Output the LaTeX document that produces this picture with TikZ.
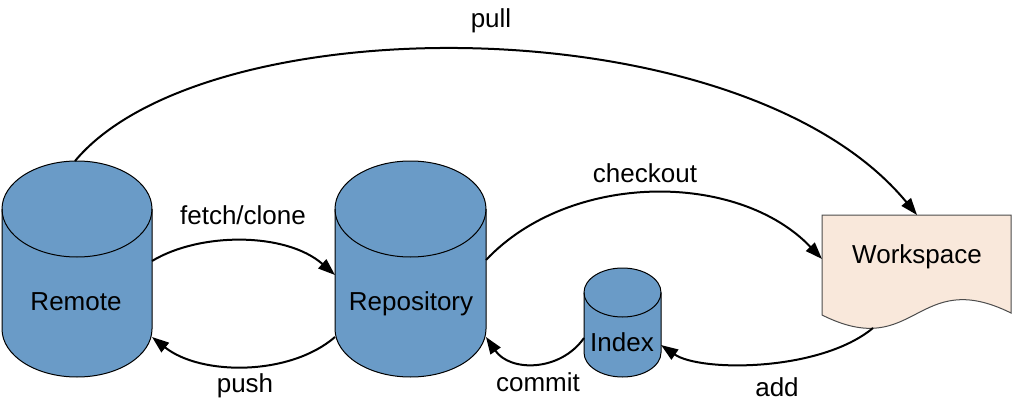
\documentclass[tikz,border=0pt]{standalone}
\usepackage{fontspec}
\setmainfont{Liberation Sans}
\usetikzlibrary{arrows.meta}
\definecolor{cylblue}{RGB}{106,155,199}
\definecolor{wsfill}{RGB}{249,232,219}
\newcommand\cylshape[5]{%
  \pgfmathsetmacro\cylrx{(#2-#1)/2}%
  \filldraw[cylstyle] (#1,-#3-#5) -- (#1,-#4+#5)
    arc[start angle=180,end angle=360,x radius=\cylrx pt,y radius=#5 pt]
    -- (#2,-#3-#5)
    arc[start angle=0,end angle=180,x radius=\cylrx pt,y radius=#5 pt] -- cycle;
  \draw[cylstyle,fill=none] (#1,-#3-#5)
    arc[start angle=180,end angle=360,x radius=\cylrx pt,y radius=#5 pt];
}
\begin{document}
\begin{tikzpicture}[x=1pt,y=1pt,
  cylstyle/.style={fill=cylblue,draw=black,line width=1pt},
  wsstyle/.style={fill=wsfill,draw=black!70,line width=1pt},
  lbl/.style={font=\fontsize{26}{30}\selectfont,inner sep=0pt},
  conn/.style={draw=black,line width=2pt,-{Triangle[length=17pt,width=12pt]}}]
\useasboundingbox (0,0) rectangle (1013,-404);
% shapes
\cylshape{2}{152}{161}{377}{48}
\cylshape{335}{486}{161}{377}{48}
\cylshape{584}{661}{268}{377}{24.5}
\filldraw[wsstyle] (822,-315) -- (822,-215) -- (1011,-215) -- (1011,-313)
  .. controls (916,-266) and (916,-362) .. (822,-315) -- cycle;
% labels
\node[lbl] (remote) at (76,-302) {Remote};
\node[lbl] (repo) at (411,-304) {Repository};
\node[lbl] (index) at (622,-342) {Index};
\node[lbl] (ws) at (917,-257) {Workspace};
\node[lbl] (lpull) at (491,-21) {pull};
\node[lbl] (lfetch) at (243,-215) {fetch/clone};
\node[lbl] (lpush) at (245,-386) {push};
\node[lbl] (lcheckout) at (645,-173) {checkout};
\node[lbl] (lcommit) at (538,-382) {commit};
\node[lbl] (ladd) at (777,-387) {add};
% connector end points
\coordinate (remote-top) at (75,-161);
\coordinate (remote-r1) at (152,-261);
\coordinate (remote-r2) at (152,-337);
\coordinate (repo-l1) at (335,-275);
\coordinate (repo-l2) at (335,-337);
\coordinate (repo-r1) at (486,-260);
\coordinate (repo-r2) at (486,-337);
\coordinate (index-l) at (584,-338);
\coordinate (index-r) at (661,-345);
\coordinate (ws-top) at (917,-215);
\coordinate (ws-l) at (822,-259);
\coordinate (ws-b) at (873,-328);
% connectors
\draw[conn] (remote-top) .. controls (206,-4) and (743,-4) .. (ws-top);
\draw[conn] (remote-r1) .. controls (200,-232) and (286,-232) .. (repo-l1);
\draw[conn] (repo-l2) .. controls (290,-376) and (201,-376) .. (remote-r2);
\draw[conn] (repo-r1) .. controls (570,-171) and (738,-171) .. (ws-l);
\draw[conn] (index-l) .. controls (560,-372) and (510,-372) .. (repo-r2);
\draw[conn] (ws-b) .. controls (820,-372) and (700,-372) .. (index-r);
\end{tikzpicture}
\end{document}
